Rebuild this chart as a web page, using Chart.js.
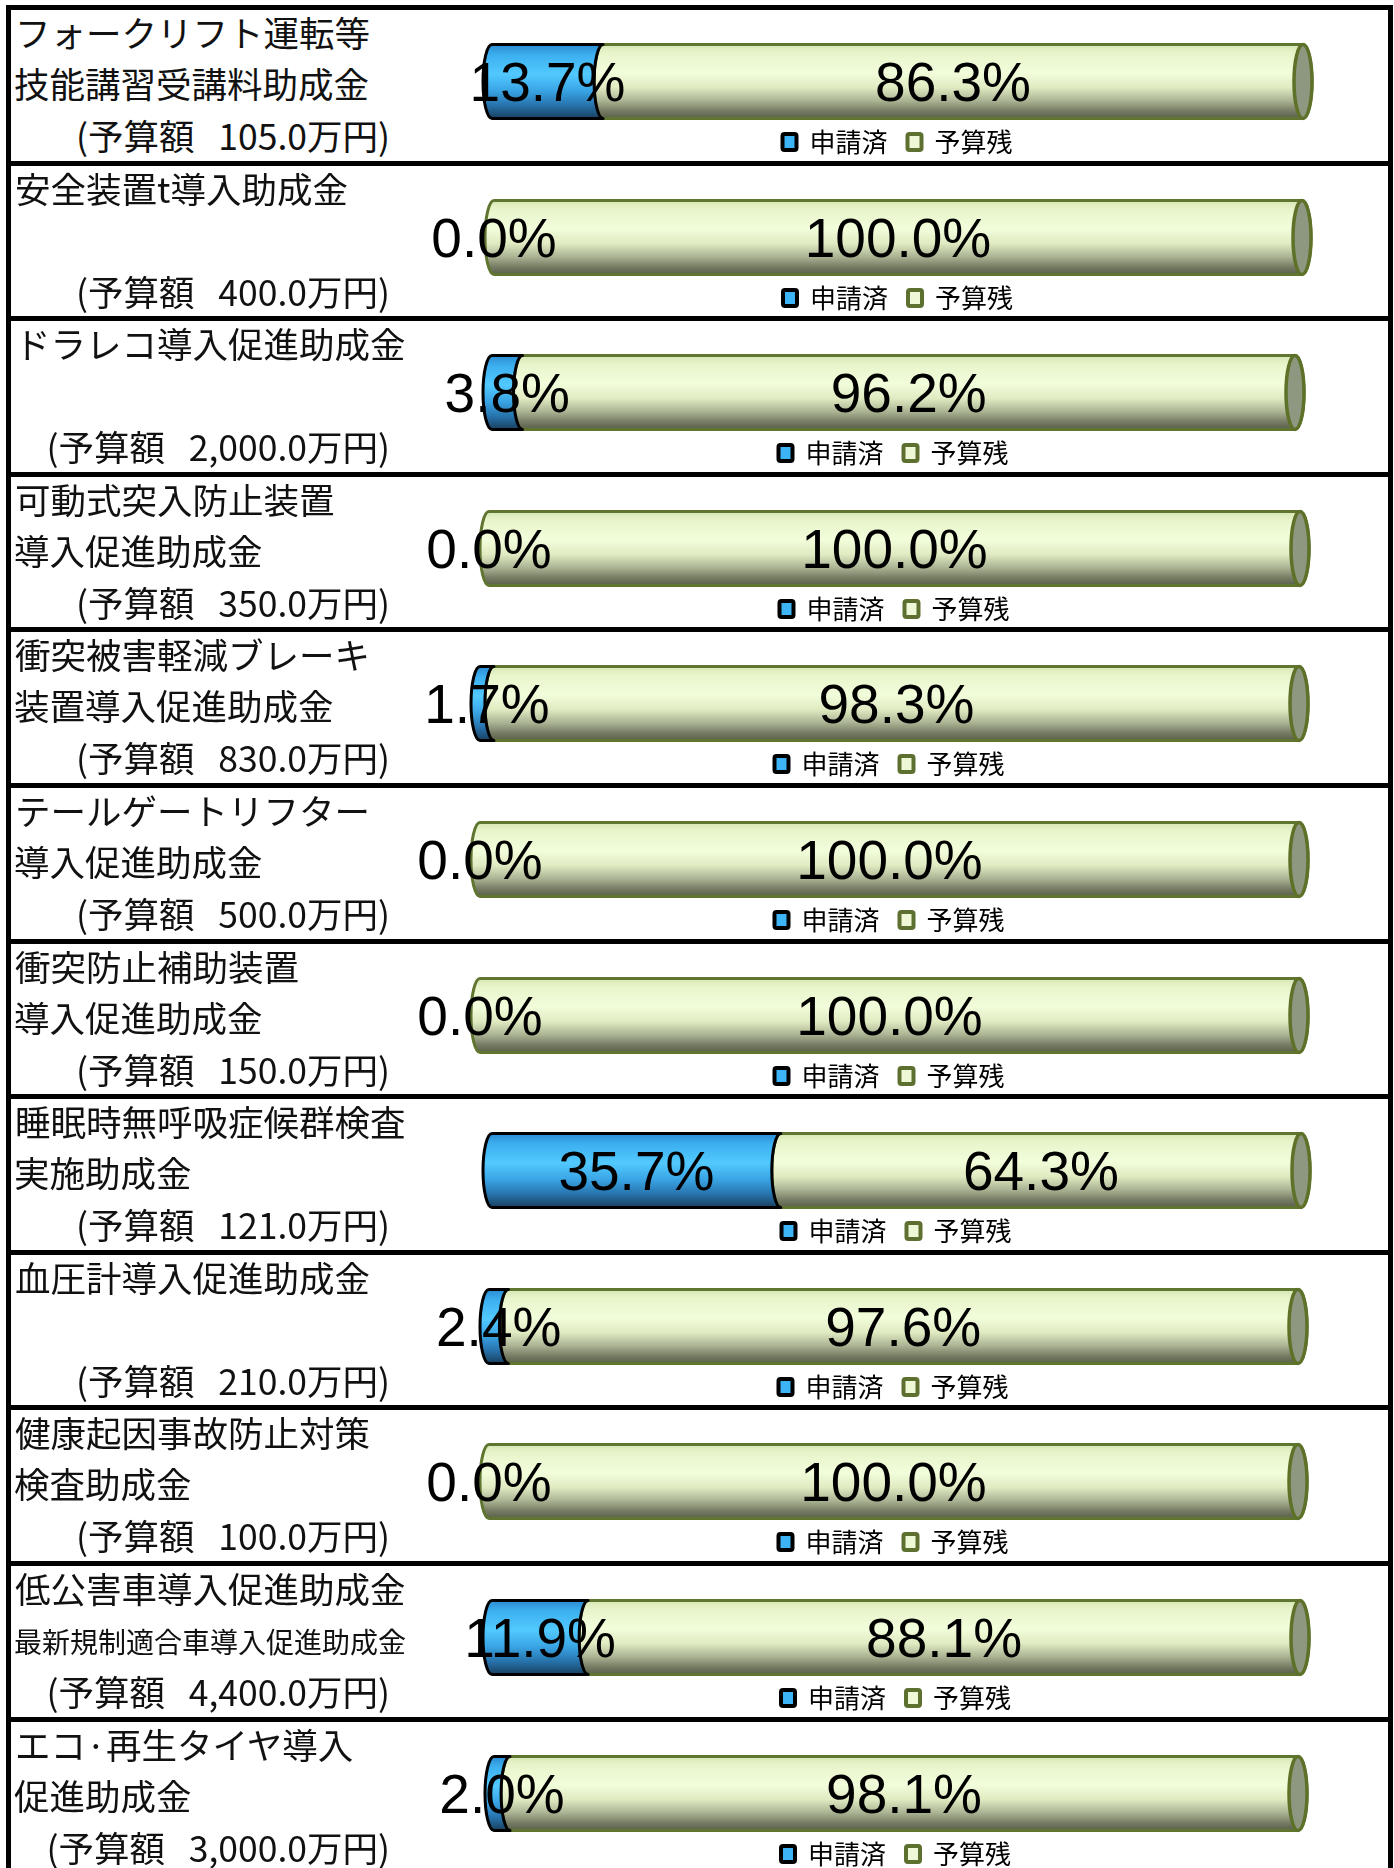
<!DOCTYPE html>
<html lang="ja">
<head>
<meta charset="utf-8">
<title>助成金 申請状況</title>
<script src="https://cdn.jsdelivr.net/npm/chart.js@4.4.1/dist/chart.umd.min.js"></script>
<style>
  html, body { margin: 0; padding: 0; background: #fff; }
  body { width: 1394px; height: 1868px; position: relative; overflow: hidden;
         font-family: "Noto Sans CJK JP", "Noto Sans", sans-serif; color: #111; }
  .row { position: absolute; left: 6px; width: 1377px; height: 170px;
         border: 5px solid #000; border-bottom: none; }
  .line { position: absolute; height: 50px; line-height: 50px; white-space: pre;
          font-size: 35.5px; }
  .line.small { font-size: 28px; }
  canvas { position: absolute; }
</style>
</head>
<body>
<script>
// ---- data ---------------------------------------------------------------
const rowTitles = [
  'フォークリフト運転等', '安全装置t導入助成金', 'ドラレコ導入促進助成金',
  '可動式突入防止装置', '衝突被害軽減ブレーキ', 'テールゲートリフター',
  '衝突防止補助装置', '睡眠時無呼吸症候群検査', '血圧計導入促進助成金',
  '健康起因事故防止対策', '低公害車導入促進助成金', 'エコ·再生タイヤ導入'
];
const rowSubtitles = [
  '技能講習受講料助成金', '', '', '導入促進助成金', '装置導入促進助成金',
  '導入促進助成金', '導入促進助成金', '実施助成金', '', '検査助成金',
  '最新規制適合車導入促進助成金', '促進助成金'
];
const budgetMan = [105, 400, 2000, 350, 830, 500, 150, 121, 210, 100, 4400, 3000];
const appliedPct = [13.7, 0.0, 3.8, 0.0, 1.7, 0.0, 0.0, 35.7, 2.4, 0.0, 11.9, 2.0];
const remainingPct = [86.3, 100.0, 96.2, 100.0, 98.3, 100.0, 100.0, 64.3, 97.6, 100.0, 88.1, 98.1];
const seriesNames = ['申請済', '予算残'];

// ---- layout -------------------------------------------------------------
const ROW_TOP0 = 5, ROW_PITCH = 155.6, BORDER = 5;
const CANVAS_LEFT = 400, CANVAS_RIGHT = 1388, CANVAS_H = 170;
const barStart = [492, 494, 492, 489, 480, 480, 480, 492, 489, 489, 492, 494];
const barEnd   = [1303, 1302, 1295, 1300, 1299, 1299, 1299, 1301, 1298, 1298, 1300, 1298];
const smallSubtitleRows = [10];

// ---- cylinder look ------------------------------------------------------
const styles = [
  { stroke: '#000000', stops: [[0, '#2b8bd2'], [0.15, '#3db1f0'], [0.4, '#52c9ff'], [0.62, '#3aa5e5'], [0.82, '#2773ad'], [1, '#19405f']] },
  { stroke: '#5f7530', stops: [[0, '#d6e6b4'], [0.12, '#e8f5cb'], [0.38, '#f2fddb'], [0.58, '#e0ebc2'], [0.76, '#aab393'], [0.9, '#767b63'], [1, '#595e4a']] }
];
const legendFill = ['#3db4f5', '#eef7d6'];
const legendStroke = ['#000000', '#5e7030'];

function segmentPath(ctx, x0, x1, top, bot, rx, outerRight) {
  const cy = (top + bot) / 2, ry = (bot - top) / 2;
  ctx.beginPath();
  ctx.moveTo(x0, bot);
  ctx.ellipse(x0, cy, rx, ry, 0, Math.PI / 2, Math.PI * 1.5, false);
  ctx.lineTo(x1, top);
  if (outerRight) ctx.ellipse(x1, cy, rx, ry, 0, -Math.PI / 2, Math.PI / 2, false);
  else ctx.ellipse(x1, cy, rx, ry, 0, Math.PI * 1.5, Math.PI / 2, true);
  ctx.closePath();
}

const cylinderPlugin = {
  id: 'cylinders',
  afterDatasetsDraw(chart) {
    const ctx = chart.ctx;
    const rx = 9;
    const last = chart.data.datasets.length - 1;
    // back to front: remaining budget first, then applied on top
    for (let d = last; d >= 0; d--) {
      const meta = chart.getDatasetMeta(d);
      meta.data.forEach((el) => {
        const p = el.getProps(['x', 'y', 'base', 'height'], true);
        const x0 = Math.min(p.base, p.x), x1 = Math.max(p.base, p.x);
        const top = p.y - p.height / 2, bot = p.y + p.height / 2;
        const st = styles[d];
        if (x1 - x0 < 0.5 && d !== last) return;
        const g = ctx.createLinearGradient(0, top, 0, bot);
        st.stops.forEach(([o, c]) => g.addColorStop(o, c));
        ctx.save();
        segmentPath(ctx, x0, x1, top, bot, rx, d === last);
        ctx.fillStyle = g;
        ctx.fill();
        ctx.lineWidth = 3;
        ctx.strokeStyle = st.stroke;
        ctx.lineJoin = 'round';
        ctx.stroke();
        if (d === last) {
          ctx.beginPath();
          ctx.ellipse(x1, p.y, rx, p.height / 2, 0, 0, Math.PI * 2);
          ctx.fillStyle = '#8e9880';
          ctx.fill();
          ctx.lineWidth = 3.5;
          ctx.strokeStyle = '#5d7128';
          ctx.stroke();
        }
        ctx.restore();
      });
    }
    // value labels, centred on each segment
    ctx.save();
    ctx.font = '55px "Liberation Sans", Arial, sans-serif';
    ctx.fillStyle = '#000';
    ctx.textAlign = 'center';
    ctx.textBaseline = 'middle';
    chart.data.datasets.forEach((ds, d) => {
      chart.getDatasetMeta(d).data.forEach((el, j) => {
        const p = el.getProps(['x', 'y', 'base'], true);
        ctx.fillText(ds.data[j].toFixed(1) + '%', (p.x + p.base) / 2, p.y + 4);
      });
    });
    ctx.restore();
  }
};

function fmtBudget(v) {
  return v.toLocaleString('en-US', { minimumFractionDigits: 1, maximumFractionDigits: 1 });
}

function addLine(text, x, y, cls, alignRight) {
  const el = document.createElement('div');
  el.className = 'line' + (cls ? ' ' + cls : '');
  el.textContent = text;
  if (alignRight) { el.style.right = (1394 - x) + 'px'; }
  else { el.style.left = x + 'px'; }
  el.style.top = (y - 25) + 'px';
  document.body.appendChild(el);
}

rowTitles.forEach((title, i) => {
  const rowTop = Math.round(ROW_TOP0 + i * ROW_PITCH);
  const row = document.createElement('div');
  row.className = 'row';
  row.style.top = rowTop + 'px';
  document.body.appendChild(row);

  addLine(title, 15, rowTop + 27);
  if (rowSubtitles[i]) {
    const small = smallSubtitleRows.includes(i);
    addLine(rowSubtitles[i], 14, rowTop + (small ? 80 : 78), small ? 'small' : '');
  }
  addLine('(予算額   ' + fmtBudget(budgetMan[i]) + '万円)', 390, rowTop + 130, '', true);

  const canvas = document.createElement('canvas');
  const w = CANVAS_RIGHT - CANVAS_LEFT;
  canvas.width = w; canvas.height = CANVAS_H;
  canvas.style.left = CANVAS_LEFT + 'px';
  canvas.style.top = (rowTop + BORDER) + 'px';
  canvas.style.width = w + 'px'; canvas.style.height = CANVAS_H + 'px';
  document.body.appendChild(canvas);

  new Chart(canvas, {
    type: 'bar',
    data: {
      labels: [title],
      datasets: seriesNames.map((name, d) => ({
        label: name,
        data: [d === 0 ? appliedPct[i] : remainingPct[i]],
        backgroundColor: 'rgba(0,0,0,0)',
        borderWidth: 0,
        barThickness: 74
      }))
    },
    options: {
      indexAxis: 'y',
      responsive: false,
      animation: false,
      devicePixelRatio: 1,
      layout: { padding: { left: barStart[i] - CANVAS_LEFT, right: CANVAS_RIGHT - barEnd[i], top: 44, bottom: 16 } },
      scales: {
        x: { display: false, stacked: true, min: 0, max: appliedPct[i] + remainingPct[i] },
        y: { display: false, stacked: true }
      },
      plugins: {
        tooltip: { enabled: false },
        legend: {
          position: 'bottom',
          labels: {
            color: '#111',
            font: { family: '"Noto Sans CJK JP", sans-serif', size: 26 },
            boxWidth: 14, boxHeight: 16, padding: 20,
            useBorderRadius: true, borderRadius: 2,
            generateLabels: () => seriesNames.map((name, d) => ({
              text: name, fillStyle: legendFill[d], strokeStyle: legendStroke[d],
              lineWidth: 4, borderRadius: 2, hidden: false, datasetIndex: d
            }))
          }
        }
      }
    },
    plugins: [cylinderPlugin]
  });
});
</script>
</body>
</html>
